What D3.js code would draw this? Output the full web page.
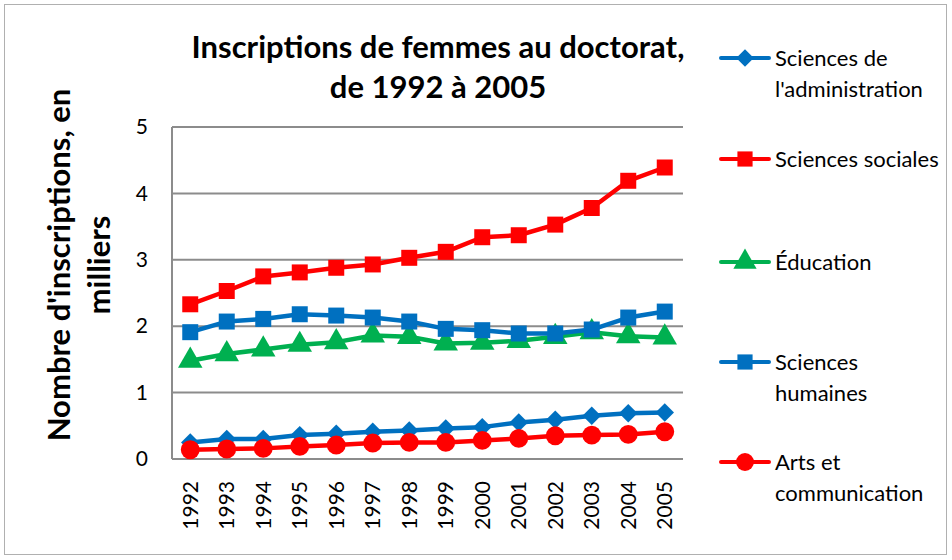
<!DOCTYPE html>
<html><head><meta charset="utf-8">
<script src="https://cdn.jsdelivr.net/npm/d3@7"></script>
<style>body{margin:0;background:#fff}svg{display:block;font-family:Lato,"Open Sans",sans-serif}</style>
</head><body><svg id="c" width="952" height="560"></svg>
<script>
const years = ["1992","1993","1994","1995","1996","1997","1998","1999","2000","2001","2002","2003","2004","2005"];
const yTicks = [0,1,2,3,4,5];
const administration = [0.25,0.30,0.30,0.36,0.38,0.41,0.43,0.46,0.48,0.55,0.59,0.65,0.69,0.70];
const sociales = [2.33,2.53,2.75,2.81,2.88,2.93,3.03,3.12,3.34,3.37,3.53,3.78,4.19,4.39];
const education = [1.48,1.58,1.65,1.72,1.76,1.86,1.84,1.74,1.75,1.78,1.84,1.91,1.85,1.83];
const humaines = [1.91,2.07,2.11,2.18,2.16,2.13,2.07,1.96,1.94,1.89,1.89,1.95,2.13,2.22];
const arts = [0.14,0.15,0.16,0.19,0.21,0.24,0.25,0.25,0.28,0.31,0.35,0.36,0.37,0.41];
const seriesNames = [["Sciences de","l'administration"],["Sciences sociales"],["Éducation"],["Sciences","humaines"],["Arts et","communication"]];
const seriesColors = ["#0070C0","#FF0000","#00B050","#0070C0","#FF0000"];
const seriesSymbols = [d3.symbolSquare, d3.symbolSquare, d3.symbolTriangle, d3.symbolSquare, d3.symbolCircle];
const seriesRot = [45,0,0,0,0];
const seriesValues = [administration, sociales, education, humaines, arts];
const symbolSizes = [170, 256, 260, 256, 280];

const svg = d3.select("#c");
svg.append("rect").attr("x",4.5).attr("y",4.5).attr("width",942).attr("height",550).attr("fill","#fff").attr("stroke","#b0b0b0");

const L=172, R=683, T=127, B=459;
const x = d3.scaleBand().domain(years).range([L,R]);
const y = d3.scaleLinear().domain([0,5]).range([B,T]);

svg.append("g").selectAll("line").data(yTicks).join("line")
  .attr("x1",L).attr("x2",R).attr("y1",d=>y(d)).attr("y2",d=>y(d))
  .attr("stroke","#8c8c8c").attr("stroke-width",2);
svg.append("line").attr("x1",L).attr("x2",L).attr("y1",T).attr("y2",B).attr("stroke","#8c8c8c").attr("stroke-width",2);

const ya = svg.append("g").attr("transform",`translate(${L},0)`)
  .call(d3.axisLeft(y).tickValues(yTicks).tickFormat(d3.format("d")).tickSize(0).tickPadding(24));
ya.select(".domain").remove();
ya.selectAll("text").attr("font-size",21).attr("font-family","Lato,sans-serif").attr("fill","#000");

const xa = svg.append("g").attr("transform",`translate(0,${B})`).call(d3.axisBottom(x).tickSize(0));
xa.select(".domain").remove();
xa.selectAll("text").attr("font-size",21).attr("font-family","Lato,sans-serif").attr("fill","#000")
  .attr("transform","rotate(-90)").attr("text-anchor","end").attr("dy","0.35em").attr("dx","-22").attr("y",0).attr("x",0);

const line = d3.line().x((d,i)=>x(years[i])+x.bandwidth()/2).y(d=>y(d));
const order = [0,4,2,3,1];
order.forEach(k=>{
  const g = svg.append("g");
  g.append("path").datum(seriesValues[k]).attr("d",line).attr("fill","none")
   .attr("stroke",seriesColors[k]).attr("stroke-width",4.5).attr("stroke-linejoin","round");
  g.selectAll("path.m").data(seriesValues[k]).join("path").attr("class","m")
   .attr("d",d3.symbol().type(seriesSymbols[k]).size(symbolSizes[k]))
   .attr("transform",(d,i)=>`translate(${x(years[i])+x.bandwidth()/2},${y(d)}) rotate(${seriesRot[k]})`)
   .attr("fill",seriesColors[k]);
});

const title = svg.append("text").attr("x",438).attr("y",58).attr("text-anchor","middle")
  .attr("font-size",31).attr("font-weight","bold");
title.append("tspan").attr("x",438).text("Inscriptions de femmes au doctorat,");
title.append("tspan").attr("x",438).attr("dy",40).text("de 1992 à 2005");

const yt = svg.append("text").attr("transform","translate(70,265) rotate(-90)").attr("text-anchor","middle")
  .attr("font-size",31).attr("font-weight","bold");
yt.append("tspan").attr("x",0).text("Nombre d'inscriptions,  en");
yt.append("tspan").attr("x",0).attr("dy",40).text("milliers");

const legendY = [58,159,262,362,462];
seriesNames.forEach((names,k)=>{
  const g = svg.append("g").attr("transform",`translate(721,${legendY[k]})`);
  g.append("line").attr("x1",0).attr("x2",48).attr("stroke",seriesColors[k]).attr("stroke-width",4).attr("stroke-linecap","round");
  g.append("path").attr("d",d3.symbol().type(seriesSymbols[k]).size(symbolSizes[k]*0.9))
   .attr("transform",`translate(24,0) rotate(${seriesRot[k]})`).attr("fill",seriesColors[k]);
  const t = g.append("text").attr("x",54).attr("y",0).attr("font-size",22);
  names.forEach((n,j)=>t.append("tspan").attr("x",54).attr("dy",j===0?"0.35em":"1.4em").text(n));
});
</script></body></html>
